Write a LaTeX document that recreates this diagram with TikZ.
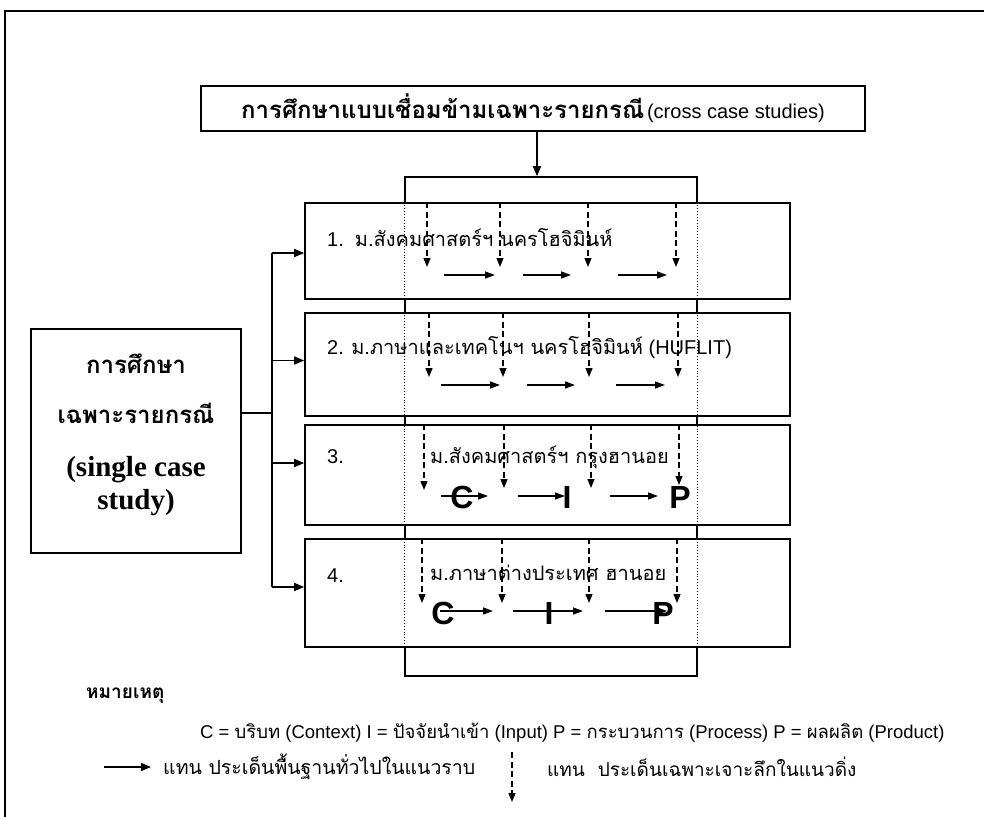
\documentclass[tikz,border=0pt]{standalone}
\usepackage{fontspec}
\setmainfont{Liberation Sans}
\newfontfamily\thaifont[Script=Thai]{Loma}
\newfontfamily\serifbf{Liberation Serif}
\usetikzlibrary{arrows.meta, positioning}

\tikzset{
  frame/.style={draw, line width=1.4pt},
  box/.style={draw, line width=1.6pt, fill=white, inner sep=0pt},
  arr/.style={-{Triangle[length=10pt, width=8pt]}, line width=1.5pt},
  harr/.style={-{Triangle[length=10pt, width=7pt]}, line width=1.4pt},
  varr/.style={-{Triangle[length=9pt, width=7pt]}, line width=1.3pt, dash pattern=on 6pt off 3.5pt},
  dotv/.style={line width=0.9pt, dotted},
  rowtext/.style={anchor=west, inner sep=0pt, font=\fontsize{20}{22}\selectfont},
  cip/.style={inner sep=0pt, font=\bfseries\fontsize{32}{34}\selectfont},
  singlethai/.style={inner sep=0pt, font=\thaifont\bfseries\fontsize{24}{26}\selectfont},
  singlelat/.style={inner sep=0pt, font=\serifbf\bfseries\fontsize{29}{31}\selectfont},
  legtext/.style={anchor=west, inner sep=0pt, font=\fontsize{18.5}{20}\selectfont}
}

\begin{document}
\begin{tikzpicture}[x=1pt, y=-1pt]
\useasboundingbox (0,0) rectangle (984,816);
\clip (0,0) rectangle (984,816);
\draw[frame] (5,11) rectangle (1000,840);

% cross case box
\node[box, minimum width=664, minimum height=45] (title) at (533,108.5)
  {{\thaifont\bfseries\fontsize{24}{26}\selectfont การศึกษาแบบเชื่อมข้ามเฉพาะรายกรณี} {\fontsize{20}{22}\selectfont(cross case studies)}};

% bracket behind the four cases
\node[draw, line width=1.6pt, minimum width=292, minimum height=499, inner sep=0pt] (brk) at (551,426.5) {};
\coordinate (ax) at (537,0);
\draw[arr] (title.south -| ax) -- (brk.north -| ax);

% the four cases
\node[box, minimum width=485, minimum height=96] (r1) at (547.5,251) {};
\node[box, minimum width=485, minimum height=103] (r2) at (547.5,364.5) {};
\node[box, minimum width=485, minimum height=100] (r3) at (547.5,475) {};
\node[box, minimum width=485, minimum height=108] (r4) at (547.5,593) {};
\draw[dotv] (brk.north west) -- (brk.south west);
\draw[dotv] (brk.north east) -- (brk.south east);

\node[rowtext] (t1) at (327,238) {1.\ \ {\thaifont ม.สังคมศาสตร์ฯ นครโฮจิมินห์}};
\node[rowtext] (t2) at (327,348) {2. {\thaifont ม.ภาษาและเทคโนฯ นครโฮจิมินห์} (HUFLIT)};
\node[rowtext] (t3) at (327,457) {3.};
\node[rowtext] (t3b) at (430,457) {\thaifont ม.สังคมศาสตร์ฯ กรุงฮานอย};
\node[rowtext] (t4) at (327,576) {4.};
\node[rowtext] (t4b) at (430,573) {\thaifont ม.ภาษาต่างประเทศ ฮานอย};

% C I P letters
\node[cip] (c3) at (462,497) {C};
\node[cip] (i3) at (567,497) {I};
\node[cip] (p3) at (680,497) {P};
\node[cip] (c4) at (443,613) {C};
\node[cip] (i4) at (549,613) {I};
\node[cip] (p4) at (663,613) {P};

% vertical (in depth) arrows
\foreach \x in {427,500,588,676} \draw[varr] (r1.north -| \x,0) -- (\x,267);
\foreach \x in {429,503,589,678} \draw[varr] (r2.north -| \x,0) -- (\x,377);
\foreach \x/\y in {424/490,504/488,591/488,679/485} \draw[varr] (r3.north -| \x,0) -- (\x,\y);
\foreach \x in {422,502,589,677} \draw[varr] (r4.north -| \x,0) -- (\x,603);

% horizontal (basic) arrows
\foreach \a/\b in {444/495,523/571,618/667} \draw[harr] (\a,275) -- (\b,275);
\foreach \a/\b in {441/500,527/575,616/665} \draw[harr] (\a,385) -- (\b,385);
\foreach \a/\b in {441/488,518/565,610/658} \draw[harr] (\a,496) -- (\b,496);
\foreach \a/\b in {440/493,513/583,605/667} \draw[harr] (\a,611) -- (\b,611);

% single case box
\node[box, minimum width=210, minimum height=224] (single) at (136,441) {};
\node[singlethai] (sg1) at (136,364) {การศึกษา};
\node[singlethai] (sg2) at (136,413) {เฉพาะรายกรณี};
\node[singlelat] (sg3) at (136,470) {(single case};
\node[singlelat] (sg4) at (136,503) {study)};
\coordinate (tk) at (272,413);
\draw[line width=1.6pt] (single.east |- tk) -- (tk);
\draw[line width=1.6pt] ([yshift=-2pt]tk |- r1.west) -- ([yshift=6pt]tk |- r4.west);
\foreach \r/\s in {r1/-2,r2/4,r3/12,r4/6} \draw[arr] ([yshift=\s pt]tk |- \r.west) -- ([yshift=\s pt]\r.west);

% legend
\node[anchor=west, inner sep=0pt, font=\thaifont\bfseries\fontsize{19}{21}\selectfont] (note) at (86,696) {หมายเหตุ};
\node[legtext] (leg1) at (200,733) {C = {\thaifont บริบท} (Context) I = {\thaifont ปัจจัยนำเข้า} (Input) P = {\thaifont กระบวนการ} (Process) P = {\thaifont ผลผลิต} (Product)};
\coordinate (la) at (104,767);
\coordinate (lb) at (151,767);
\draw[arr] (la) -- (lb);
\node[legtext, font=\fontsize{19.5}{21}\selectfont] (leg2) at (163,767) {\thaifont แทน ประเด็นพื้นฐานทั่วไปในแนวราบ};
\coordinate (lc) at (512,752);
\coordinate (ld) at (512,802);
\draw[varr] (lc) -- (ld);
\node[legtext, font=\fontsize{19}{21}\selectfont] (leg3) at (547,767) {\thaifont แทน\ \ ประเด็นเฉพาะเจาะลึกในแนวดิ่ง};
\end{tikzpicture}
\end{document}
